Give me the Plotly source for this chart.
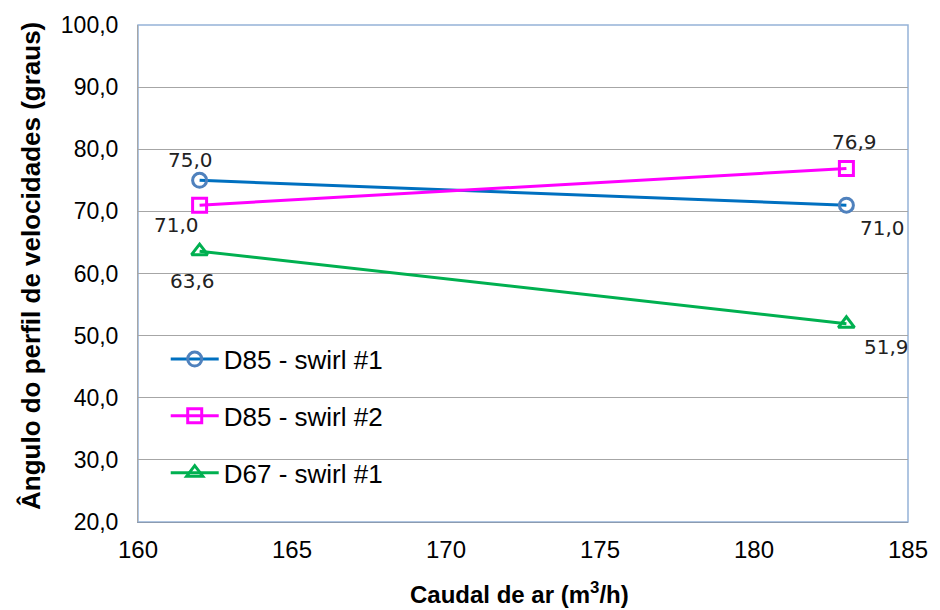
import plotly.graph_objects as go

# Air flow rate (m3/h)
caudal = [162, 183]

# Velocity-profile angle (degrees) per configuration
d85_swirl1 = [75.0, 71.0]
d85_swirl2 = [71.0, 76.9]
d67_swirl1 = [63.6, 51.9]

series_names = ["D85 - swirl #1", "D85 - swirl #2", "D67 - swirl #1"]

y_ticks = [20, 30, 40, 50, 60, 70, 80, 90, 100]
y_ticktext = ["20,0", "30,0", "40,0", "50,0", "60,0", "70,0", "80,0", "90,0", "100,0"]
x_ticks = [160, 165, 170, 175, 180, 185]

x_title = "<b>Caudal de ar (m<sup>3</sup>/h)</b>"
y_title = "<b>Ângulo do perfil de velocidades (graus)</b>"

line_colors = ["#0070C0", "#FF00FF", "#00B050"]
marker_colors = ["#4F81BD", "#FF00FF", "#00B050"]
symbols = ["circle-open", "square-open", "triangle-up-open"]

# pixel offsets of each value label relative to its marker
label_offsets = [
    [(-9, 20), (36, -23)],
    [(-23, -20), (8, 27)],
    [(-7, -30), (40, -23)],
]


def fmt(v):
    return f"{v:.1f}".replace(".", ",")


fig = go.Figure()
all_series = [d85_swirl1, d85_swirl2, d67_swirl1]
for i, (name, ys, lc, mc, sym) in enumerate(zip(series_names, all_series, line_colors, marker_colors, symbols)):
    fig.add_trace(go.Scatter(
        x=caudal, y=ys, name=name, mode="lines+markers", legendgroup=f"g{i}",
        line=dict(color=lc, width=3),
        marker=dict(symbol=sym, size=14, color=mc, line=dict(width=3, color=mc)),
    ))

annotations = []
for ys, offs in zip(all_series, label_offsets):
    for xv, yv, (dx, dy) in zip(caudal, ys, offs):
        annotations.append(dict(
            x=xv, y=yv, xref="x", yref="y", text=fmt(yv), showarrow=False,
            xshift=dx, yshift=dy,
            font=dict(family="DejaVu Sans", size=20, color="#222222"),
        ))

# axis titles placed in paper coordinates
annotations.append(dict(
    x=0.495, y=-0.142, xref="paper", yref="paper", text=x_title, showarrow=False,
    xanchor="center", yanchor="middle", font=dict(size=24, color="#000000"),
))
annotations.append(dict(
    x=-0.139, y=0.515, xref="paper", yref="paper", text=y_title, showarrow=False,
    textangle=-90, xanchor="center", yanchor="middle", font=dict(size=26, color="#000000"),
))

fig.update_layout(
    width=940, height=610,
    margin=dict(l=138, r=25, t=20, b=88),
    paper_bgcolor="white", plot_bgcolor="white",
    font=dict(family="Liberation Sans, Arial", color="#000000"),
    showlegend=True,
    legend=dict(
        x=0.036, y=0.375, xanchor="left", yanchor="top",
        bgcolor="rgba(0,0,0,0)", font=dict(size=26),
        tracegroupgap=20, itemwidth=48,
    ),
    annotations=annotations,
    shapes=[dict(type="rect", xref="paper", yref="paper", x0=0, y0=0, x1=1, y1=1,
                 line=dict(color="#95B3D7", width=1.5), layer="below")],
)

fig.update_xaxes(
    range=[160, 185], tickvals=x_ticks, ticks="",
    tickfont=dict(size=24), showgrid=False, zeroline=False,
    showline=True, linecolor="#8C9BB0", linewidth=1, ticklabelstandoff=6,
)
fig.update_yaxes(
    range=[20, 100], tickvals=y_ticks, ticktext=y_ticktext, ticks="",
    tickfont=dict(size=23), showgrid=True, gridcolor="#A6A6A6", gridwidth=1,
    zeroline=False, showline=True, linecolor="#A6A6A6", linewidth=1,
    ticklabelstandoff=14,
)

fig.write_html("out.html")
